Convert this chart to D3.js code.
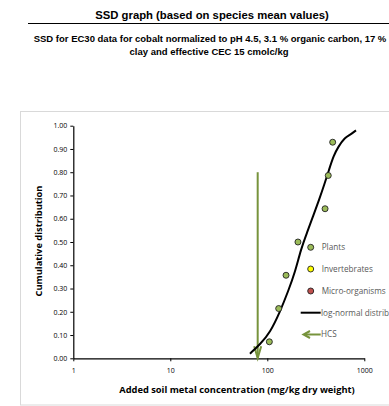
<!DOCTYPE html>
<html>
<head>
<meta charset="utf-8">
<script src="https://cdn.jsdelivr.net/npm/d3@7"></script>
<style>
  body { margin: 0; background: #fff; }
  svg { display: block; }
</style>
</head>
<body>
<div id="viz"></div>
<script>
// species data (mg/kg vs cumulative fraction)
const speciesConc = [105, 131, 156, 207, 394, 425, 472];
const speciesCum = [0.071, 0.214, 0.357, 0.5, 0.643, 0.786, 0.929];

// fitted log-normal curve
const curveConc = [66.3, 84.1, 106.6, 135.2, 164.6, 193.1, 222.6, 256.7, 295.9, 341.2, 388.9, 432.6, 481.5, 539.5, 632.4, 712.2, 821.1];
const curveCum = [0.02, 0.06, 0.11, 0.20, 0.29, 0.37, 0.47, 0.54, 0.61, 0.68, 0.75, 0.81, 0.87, 0.91, 0.95, 0.96, 0.98];

const hc5 = 79.6;
const hc5Top = 0.80;

const xTicks = [1, 10, 100, 1000];
const yTicks = [0, 0.1, 0.2, 0.3, 0.4, 0.5, 0.6, 0.7, 0.8, 0.9, 1.0];

const legendLabels = ["Plants", "Invertebrates", "Micro-organisms", "log-normal distribution", "HCS"];
const legendColors = ["#9BBB59", "#FFFF00", "#C0504D"];

const svg = d3.select("#viz")
              .append("svg")
              .attr("width", 389)
              .attr("height", 406);

const green = "#77933C";
const grey = "#595959";
const font = "'Open Sans', sans-serif";

// titles
svg.append("text")
   .attr("x", 212)
   .attr("y", 18.5)
   .attr("text-anchor", "middle")
   .style("font-family", "'Liberation Sans', Arial, sans-serif")
   .style("font-weight", "bold")
   .style("font-size", "11.3px")
   .text("SSD graph (based on species mean values)");

svg.append("line")
   .attr("x1", 28).attr("x2", 389)
   .attr("y1", 23.5).attr("y2", 23.5)
   .attr("stroke", "#000")
   .attr("stroke-width", 1);

const sub = svg.append("text")
   .attr("text-anchor", "middle")
   .style("font-family", "'Liberation Sans', Arial, sans-serif")
   .style("font-weight", "bold")
   .style("font-size", "9.5px");
sub.append("tspan").attr("x", 210).attr("y", 41.5)
   .text("SSD for EC30 data for cobalt normalized to pH 4.5, 3.1 % organic carbon, 17 %");
sub.append("tspan").attr("x", 209).attr("y", 55)
   .text("clay and effective CEC 15 cmolc/kg");

// chart frame
svg.append("rect")
   .attr("x", 20.5)
   .attr("y", 111.5)
   .attr("width", 400)
   .attr("height", 293.5)
   .attr("fill", "none")
   .attr("stroke", "#d9d9d9");

const x = d3.scaleLog()
            .domain([1, 1000])
            .range([73.3, 364.3]);

const y = d3.scaleLinear()
            .domain([0, 1])
            .range([358.3, 125.7]);

// axes
const yAxis = svg.append("g")
   .attr("transform", `translate(${x(1)},0)`)
   .call(d3.axisLeft(y).tickValues(yTicks).tickSize(3).tickSizeOuter(0).tickFormat(d3.format(".2f")));

const xAxis = svg.append("g")
   .attr("transform", `translate(0,${y(0)})`)
   .call(d3.axisBottom(x).tickValues(xTicks).tickSize(3).tickSizeOuter(0).tickFormat(d3.format("d")));

[yAxis, xAxis].forEach(a => {
  a.select(".domain").attr("stroke", "#000").attr("stroke-width", 1.2);
  a.selectAll(".tick line").attr("stroke", "#000");
  a.selectAll("text")
   .style("font-family", font)
   .style("font-size", "7px")
   .attr("fill", "#000");
});
yAxis.selectAll("text").attr("x", -6);
xAxis.selectAll("text").attr("y", 10);

svg.append("text")
   .attr("transform", `translate(42,241) rotate(-90)`)
   .attr("text-anchor", "middle")
   .style("font-family", font)
   .style("font-weight", "bold")
   .style("font-size", "9.3px")
   .text("Cumulative distribution");

svg.append("text")
   .attr("x", 237)
   .attr("y", 393)
   .attr("text-anchor", "middle")
   .style("font-family", font)
   .style("font-weight", "bold")
   .style("font-size", "9.3px")
   .text("Added soil metal concentration (mg/kg dry weight)");

// HC5 arrow
svg.append("line")
   .attr("x1", x(hc5)).attr("x2", x(hc5))
   .attr("y1", y(hc5Top)).attr("y2", y(0) - 1)
   .attr("stroke", green)
   .attr("stroke-width", 2);

svg.append("path")
   .attr("d", `M${x(hc5) - 3.5},${y(0) - 12} L${x(hc5)},${y(0)} L${x(hc5) + 3.5},${y(0) - 12}`)
   .attr("fill", "none")
   .attr("stroke", green)
   .attr("stroke-width", 2);

// log-normal curve
const curveData = curveConc.map((c, i) => [c, curveCum[i]]);
svg.append("path")
   .datum(curveData)
   .attr("d", d3.line().x(d => x(d[0])).y(d => y(d[1])).curve(d3.curveBasis))
   .attr("fill", "none")
   .attr("stroke", "#000")
   .attr("stroke-width", 2);

// species points
svg.selectAll("circle.pt")
   .data(speciesConc)
   .enter()
   .append("circle")
   .attr("class", "pt")
   .attr("cx", d => x(d))
   .attr("cy", (d, i) => y(speciesCum[i]))
   .attr("r", 3)
   .attr("fill", legendColors[0])
   .attr("stroke", "#222")
   .attr("stroke-width", 0.9);

// legend
const legY = [247.3, 269, 291, 312.7, 334.5];
const leg = svg.append("g");

leg.selectAll("circle")
   .data(legendColors)
   .enter()
   .append("circle")
   .attr("cx", 310.7)
   .attr("cy", (d, i) => legY[i])
   .attr("r", 3)
   .attr("fill", d => d)
   .attr("stroke", "#222")
   .attr("stroke-width", 0.9);

leg.append("line")
   .attr("x1", 300.7).attr("x2", 320.7)
   .attr("y1", legY[3]).attr("y2", legY[3])
   .attr("stroke", "#000")
   .attr("stroke-width", 2);

leg.append("line")
   .attr("x1", 304).attr("x2", 320.7)
   .attr("y1", legY[4]).attr("y2", legY[4])
   .attr("stroke", green)
   .attr("stroke-width", 2);

leg.append("path")
   .attr("d", `M310,${legY[4] - 3.5} L303.5,${legY[4]} L310,${legY[4] + 3.5}`)
   .attr("fill", "none")
   .attr("stroke", green)
   .attr("stroke-width", 2);

leg.selectAll("text")
   .data(legendLabels)
   .enter()
   .append("text")
   .attr("x", (d, i) => i < 3 ? 321.7 : 321)
   .attr("y", (d, i) => legY[i])
   .attr("dy", "0.35em")
   .attr("fill", grey)
   .style("font-family", font)
   .style("font-size", "8.2px")
   .text(d => d);
</script>
</body>
</html>
